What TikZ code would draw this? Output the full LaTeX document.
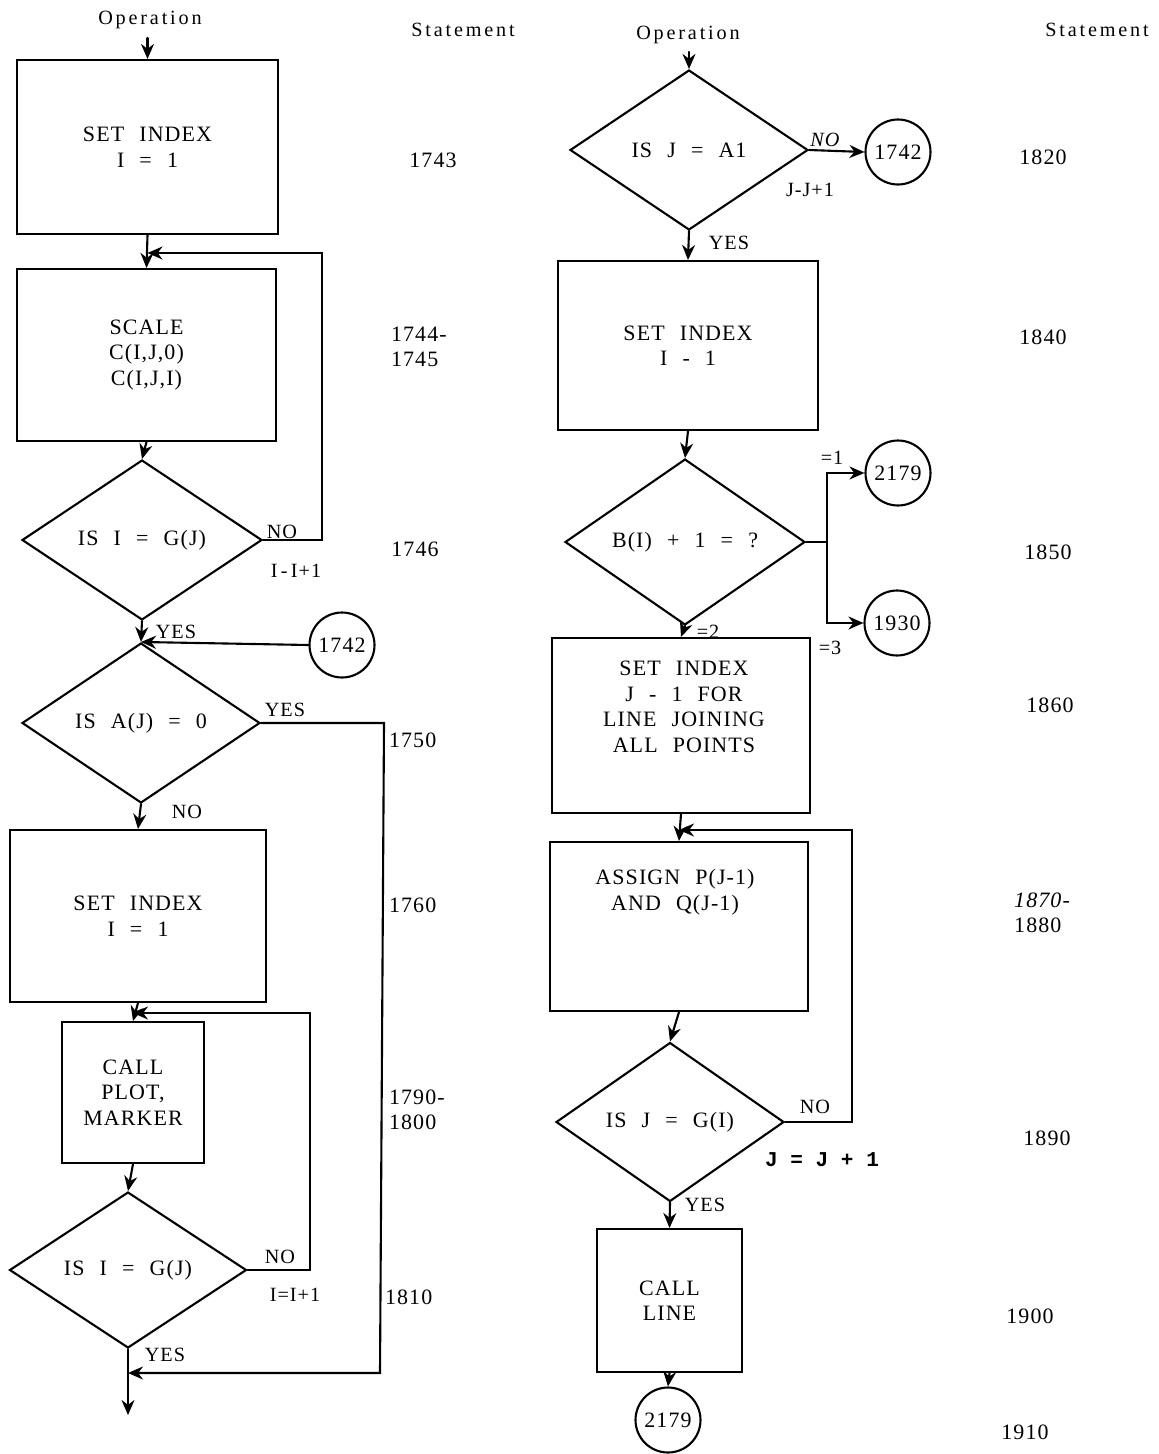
\documentclass[tikz,border=0pt]{standalone}
\usepackage{fontspec}
\setmainfont{Liberation Serif}[LetterSpace=5,WordSpace=2.3]
\setmonofont{Liberation Mono}
\newfontfamily\hdfont{Liberation Serif}[LetterSpace=14]
\usetikzlibrary{arrows.meta,shapes.geometric}

\begin{document}
\begin{tikzpicture}[x=0.02cm,y=-0.02cm,>={Stealth[length=3mm,width=2.6mm]},
  line width=1.2pt,line cap=round,font=\fontsize{12.5}{14.5}\selectfont,
  box/.style={draw,rectangle,align=center,inner sep=0pt},
  dia/.style={draw,diamond,inner sep=0pt},
  conn/.style={draw,circle,minimum size=1.3cm,inner sep=0pt},
  lbl/.style={font=\fontsize{11.5}{13}\selectfont,inner sep=1pt},
  num/.style={align=left,inner sep=0pt},
  hd/.style={font=\hdfont\fontsize{11.5}{13}\selectfont}]
\useasboundingbox (0,0) rectangle (1159,1454);

% column headings
\node[hd] (hop1) at (150,20) {Operation};
\node[hd] (hst1) at (463,30) {Statement};
\node[hd] (hop2) at (688,35) {Operation};
\node[hd] (hst2) at (1097,30) {Statement};

% left column
\coordinate (op1) at (147.5,38);
\node[box,minimum width=5.22cm,minimum height=3.48cm] (b1) at (147.5,147) {SET INDEX\\I = 1};
\node[box,minimum width=5.18cm,minimum height=3.44cm] (b2) at (146.5,355) {SCALE\\C(I,J,0)\\C(I,J,I)};
\node[dia,minimum width=4.8cm,minimum height=3.2cm] (d1) at (142,540) {IS I = G(J)};
\node[dia,minimum width=4.76cm,minimum height=3.2cm] (d2) at (141,723) {IS A(J) = 0};
\node[conn] (c1) at (342,645) {1742};
\node[box,minimum width=5.12cm,minimum height=3.44cm] (b3) at (138,916) {SET INDEX\\I = 1};
\node[box,minimum width=2.84cm,minimum height=2.82cm] (b4) at (133,1092.5) {CALL\\PLOT,\\MARKER};
\node[dia,minimum width=4.74cm,minimum height=3.12cm] (d3) at (128,1270) {IS I = G(J)};
\coordinate (lp1) at (322,253);
\coordinate (yr1) at (384,723);
\coordinate (yr2) at (380,1373);
\coordinate (lp3) at (310,1013);
\coordinate (end1) at (128,1415);

\draw[->] (op1) -- (b1.north);
\draw[->] (b1.south) -- (b2.north);
\draw[->] (d1.east) -| (lp1) -- (b1.south |- lp1);
\draw[->] (b2.south) -- (d1.north);
\draw[->] (d1.south) -- (d2.north);
\draw[->] (c1.west) -- (d2.north);
\draw[->] (d2.south) -- (b3.north);
\draw[->] (d2.east) -- (yr1) -- (yr2) -- (end1 |- yr2);
\draw[->] (b3.south) -- (b4.north);
\draw[->] (b4.south) -- (d3.north);
\draw[->] (d3.east) -| (lp3) -- (b4.north |- lp3);
\draw[->] (d3.south) -- (end1);

\node[lbl] (no1) at (282,532) {NO};
\node[lbl] (inc1) at (296,571) {I{\,}-{\,}I+1};
\node[lbl] (yes1) at (176,632) {YES};
\node[lbl] (yes2) at (285,710) {YES};
\node[lbl] (no2) at (187,812) {NO};
\node[lbl] (no3) at (280,1257) {NO};
\node[lbl] (inc3) at (295,1295) {I=I+1};
\node[lbl] (yes3) at (165,1355) {YES};

% statement numbers, left
\node[num] (s1743) at (433,160) {1743};
\node[num,anchor=west] (s1744) at (390,347) {1744-\\1745};
\node[num] (s1746) at (415,549) {1746};
\node[num,anchor=west] (s1750) at (388,740) {1750};
\node[num,anchor=west] (s1760) at (388,905) {1760};
\node[num,anchor=west] (s1790) at (388,1110) {1790-\\1800};
\node[num,anchor=west] (s1810) at (384,1297) {1810};

% right column
\coordinate (op2) at (689,52);
\node[dia,minimum width=4.76cm,minimum height=3.2cm] (d4) at (689,150) {IS J = A1};
\node[conn] (c2) at (898,152) {1742};
\node[box,minimum width=5.2cm,minimum height=3.38cm] (r1) at (688,345.5) {SET INDEX\\I - 1};
\node[dia,minimum width=4.8cm,minimum height=3.2cm] (d5) at (685,542) {B(I) + 1 = ?};
\node[conn] (c3) at (898,473) {2179};
\node[conn] (c4) at (897,623) {1930};
\node[box,minimum width=5.16cm,minimum height=3.5cm] (r2) at (681,725.5) {};
\node[align=center] (r2t) at (684,707) {SET INDEX\\J - 1 FOR\\LINE JOINING\\ALL POINTS};
\node[box,minimum width=5.16cm,minimum height=3.38cm] (r3) at (679,926.5) {};
\node[align=center] (r3t) at (675,892) {ASSIGN P(J-1)\\AND Q(J-1)};
\node[dia,minimum width=4.56cm,minimum height=3.18cm] (d6) at (670,1122) {IS J = G(I)};
\node[box,minimum width=2.9cm,minimum height=2.86cm] (r4) at (669.5,1300.5) {CALL\\LINE};
\node[conn] (c5) at (668,1420) {2179};
\coordinate (jn) at (827,542);
\coordinate (lp6) at (852,830);

\draw[->] (op2) -- (d4.north);
\draw[->] (d4.east) -- (c2.west);
\draw[->] (d4.south) -- (r1.north);
\draw[->] (r1.south) -- (d5.north);
\draw (d5.east) -- (jn);
\draw[->] (jn) |- (c3.west);
\draw[->] (jn) |- (c4.west);
\draw[->] (d5.south) -- (r2.north);
\draw[->] (r2.south) -- (r3.north);
\draw[->] (d6.east) -| (lp6) -- (r3.north |- lp6);
\draw[->] (r3.south) -- (d6.north);
\draw[->] (d6.south) -- (r4.north);
\draw[->] (r4.south) -- (c5.north);

\node[lbl] (no4) at (825,140) {\itshape NO};
\node[lbl] (inc4) at (810,190) {J-J+1};
\node[lbl] (yes4) at (729,243) {YES};
\node[lbl] (eq1) at (832,458) {=1};
\node[lbl] (eq2) at (708,632) {=2};
\node[lbl] (eq3) at (830,648) {=3};
\node[lbl] (no6) at (815,1107) {NO};
\node[lbl,font=\ttfamily\bfseries\fontsize{12}{14}\selectfont] (inc6) at (822,1160) {J = J + 1};
\node[lbl] (yes6) at (705,1205) {YES};

% statement numbers, right
\node[num] (s1820) at (1043,157) {1820};
\node[num] (s1840) at (1043,337) {1840};
\node[num] (s1850) at (1048,552) {1850};
\node[num] (s1860) at (1050,705) {1860};
\node[num] (s1870) at (1042,913) {\itshape 1870-\\1880};
\node[num] (s1890) at (1047,1138) {1890};
\node[num] (s1900) at (1030,1316) {1900};
\node[num] (s1910) at (1025,1432) {1910};
\end{tikzpicture}
\end{document}
